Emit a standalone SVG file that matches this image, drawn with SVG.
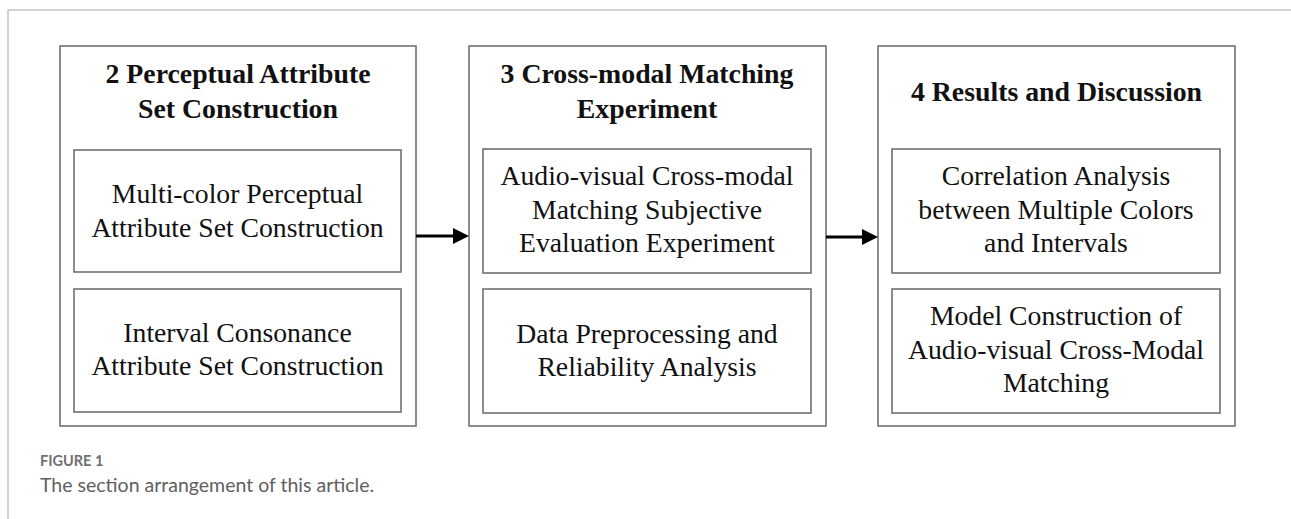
<svg xmlns="http://www.w3.org/2000/svg" width="1291" height="519" viewBox="0 0 1291 519">
  <style>
    .outer { fill: #ffffff; stroke: #707070; stroke-width: 1.6; }
    .inner { fill: #ffffff; stroke: #707070; stroke-width: 1.6; }
    .hdr { font-family: "Liberation Serif", "Times New Roman", serif; font-weight: bold; font-size: 27.8px; fill: #111; text-anchor: middle; }
    .txt { font-family: "Liberation Serif", "Times New Roman", serif; font-size: 27.7px; fill: #111; text-anchor: middle; }
    .conn { stroke: #000; stroke-width: 3; fill: none; }
    .frame { stroke: #c4c4c4; stroke-width: 1.5; fill: none; }
    .figlabel { font-family: Lato, "Open Sans", sans-serif; font-weight: bold; font-size: 14.5px; fill: #707070; }
    .caption { font-family: Lato, "Open Sans", sans-serif; font-size: 19.5px; fill: #606060; }
  </style>
  <defs>
    <marker id="arrow" markerUnits="userSpaceOnUse" markerWidth="17" markerHeight="17" refX="0" refY="8" orient="auto">
      <path d="M0,0 L16,8 L0,16 Z" fill="#000"/>
    </marker>
  </defs>
  <rect width="1291" height="519" fill="#ffffff"/>
  <path class="frame" d="M8,519 L8,10 L1291,10"/>

  <g id="section2">
    <rect class="outer" x="60" y="46" width="356" height="380"/>
    <text class="hdr" x="238" y="83">2 Perceptual Attribute</text>
    <text class="hdr" x="238" y="118">Set Construction</text>
    <g id="section2-a">
      <rect class="inner" x="74" y="150" width="327" height="122"/>
      <text class="txt" x="237.5" y="203">Multi-color Perceptual</text>
      <text class="txt" x="237.5" y="237">Attribute Set Construction</text>
    </g>
    <g id="section2-b">
      <rect class="inner" x="74" y="289" width="327" height="123"/>
      <text class="txt" x="237.5" y="342">Interval Consonance</text>
      <text class="txt" x="237.5" y="375">Attribute Set Construction</text>
    </g>
  </g>

  <g id="section3">
    <rect class="outer" x="469" y="46" width="357" height="380"/>
    <text class="hdr" x="647" y="83">3 Cross-modal Matching</text>
    <text class="hdr" x="647" y="118">Experiment</text>
    <g id="section3-a">
      <rect class="inner" x="483" y="149" width="328" height="124"/>
      <text class="txt" x="647" y="185">Audio-visual Cross-modal</text>
      <text class="txt" x="647" y="218.5">Matching Subjective</text>
      <text class="txt" x="647" y="252">Evaluation Experiment</text>
    </g>
    <g id="section3-b">
      <rect class="inner" x="483" y="289" width="328" height="124"/>
      <text class="txt" x="647" y="343">Data Preprocessing and</text>
      <text class="txt" x="647" y="376">Reliability Analysis</text>
    </g>
  </g>

  <g id="section4">
    <rect class="outer" x="878" y="46" width="357" height="380"/>
    <text class="hdr" x="1056.5" y="101">4 Results and Discussion</text>
    <g id="section4-a">
      <rect class="inner" x="892" y="149" width="328" height="124"/>
      <text class="txt" x="1056" y="185">Correlation Analysis</text>
      <text class="txt" x="1056" y="218.5">between Multiple Colors</text>
      <text class="txt" x="1056" y="252">and Intervals</text>
    </g>
    <g id="section4-b">
      <rect class="inner" x="892" y="289" width="328" height="124"/>
      <text class="txt" x="1056" y="325">Model Construction of</text>
      <text class="txt" x="1056" y="358.5">Audio-visual Cross-Modal</text>
      <text class="txt" x="1056" y="392">Matching</text>
    </g>
  </g>

  <g id="connectors">
    <line class="conn" x1="416" y1="236" x2="453" y2="236" marker-end="url(#arrow)"/>
    <line class="conn" x1="826" y1="237" x2="862" y2="237" marker-end="url(#arrow)"/>
  </g>

  <g id="caption">
    <text class="figlabel" x="40" y="466">FIGURE 1</text>
    <text class="caption" x="40" y="492">The section arrangement of this article.</text>
  </g>
</svg>
